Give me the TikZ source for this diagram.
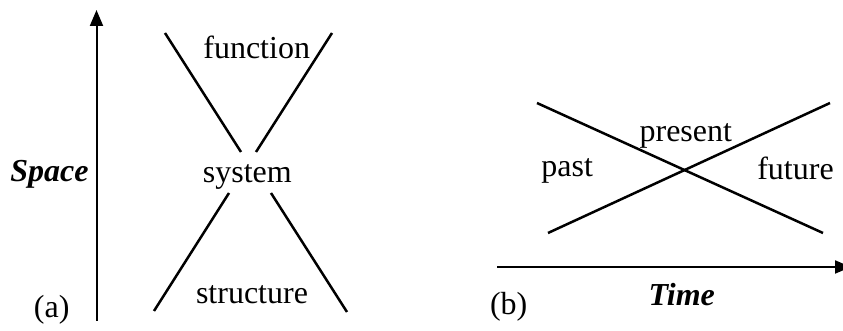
\documentclass[tikz,border=0pt]{standalone}
\usepackage{fontspec}
\setmainfont{Liberation Serif}
\usetikzlibrary{arrows.meta}
\tikzset{
  axisline/.style={-{Triangle[length=8pt, width=6.5pt]}, line width=1pt},
  crossline/.style={line width=1.25pt},
  word/.style={font=\fontsize{16}{18}\selectfont, anchor=base, inner sep=0pt},
  axisword/.style={word, font=\fontsize{16}{18}\selectfont\bfseries\itshape}
}
\begin{document}
\begin{tikzpicture}[x=0.5pt, y=-0.5pt]
  \useasboundingbox (0,0) rectangle (843,331);
  % (a) space axis
  \coordinate (spaceFoot) at (96.5,321);
  \coordinate (spaceTip) at (96.5,10);
  \draw[axisline] (spaceFoot) -- (spaceTip);
  \node[axisword] (space) at (49.5,182) {Space};
  % (a) funnel lines
  \coordinate (fnA) at (165,33);   \coordinate (fnB) at (241,152);
  \coordinate (fnC) at (332,33);   \coordinate (fnD) at (256,152);
  \coordinate (stA) at (229,193);  \coordinate (stB) at (154,311);
  \coordinate (stC) at (271,193);  \coordinate (stD) at (347,312);
  \draw[crossline] (fnA) -- (fnB);
  \draw[crossline] (fnC) -- (fnD);
  \draw[crossline] (stA) -- (stB);
  \draw[crossline] (stC) -- (stD);
  % (b) time axis
  \coordinate (timeFoot) at (497,267);
  \coordinate (timeTip) at (851,267);
  \draw[axisline] (timeFoot) -- (timeTip);
  \node[axisword] (time) at (681.7,306) {Time};
  % (b) crossing lines
  \coordinate (pastTop) at (537,103);   \coordinate (futBot) at (823,233);
  \coordinate (pastBot) at (548,233);   \coordinate (futTop) at (830,103);
  \draw[crossline] (pastTop) -- (futBot);
  \draw[crossline] (pastBot) -- (futTop);
  % labels
  \foreach \nm/\x/\y/\txt in {
    function/256.7/58.3/function,
    system/247.3/183/system,
    structure/252/304/structure,
    capa/51.7/318/(a),
    present/685.8/141.7/present,
    past/567.2/176.7/past,
    future/795.5/180/future,
    capb/508.7/315/(b)}{
    \node[word] (\nm) at (\x,\y) {\txt};
  }
\end{tikzpicture}
\end{document}
